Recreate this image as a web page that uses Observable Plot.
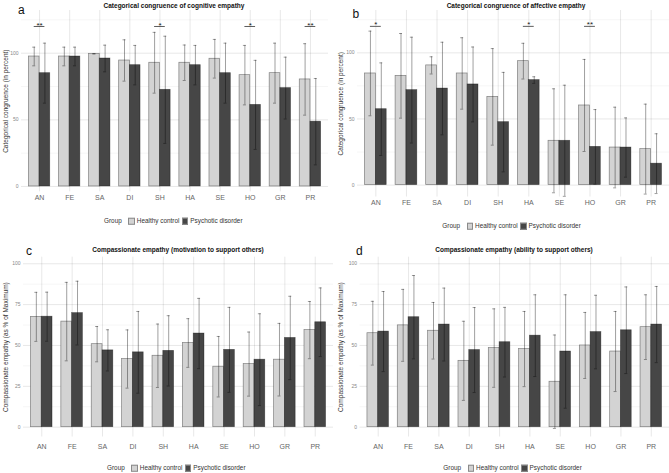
<!DOCTYPE html>
<html>
<head>
<meta charset="utf-8">
<script src="https://cdn.jsdelivr.net/npm/d3@7"></script>
<script src="https://cdn.jsdelivr.net/npm/@observablehq/plot@0.6"></script>
<style>
  html, body { margin: 0; padding: 0; background: #fff; }
  #root { position: relative; width: 669px; height: 473px; overflow: hidden; background: #fff;
          font-family: "Liberation Sans", Arial, Helvetica, sans-serif; }
  .panel-svg { position: absolute; }
  .title { position: absolute; font-weight: bold; font-size: 6.5px; color: #111; white-space: nowrap;
           transform: translate(-50%, -50%); line-height: 1; }
  .letter { position: absolute; font-size: 12px; color: #111; line-height: 1; }
  .legend { position: absolute; display: flex; align-items: center; font-size: 6.4px; color: #333;
            white-space: nowrap; line-height: 1; transform: translateY(-50%); }
  .legend .sw { display: inline-block; width: 6.5px; height: 6.5px; box-sizing: border-box;
                border: 0.6px solid #8a8a8a; }
  svg g[aria-label="x-axis tick label"] { font-size: 7px; fill: #666; }
  svg g[aria-label="y-axis tick label"] { font-size: 5px; fill: #888; }
  svg g[aria-label="y-axis label"] { font-size: 6.5px; fill: #333; }
</style>
</head>
<body>
<div id="root"></div>
<script>
// Emotion categories on the x axis
const categories = ["AN", "FE", "SA", "DI", "SH", "HA", "SE", "HO", "GR", "PR"];
const groups = ["Healthy control", "Psychotic disorder"];
const legendTitle = "Group";

// a: categorical congruence of cognitive empathy (mean, SD)
const cogHcMean = [97.5, 97.5, 99.5, 94.5, 92.8, 92.8, 95.8, 83.5, 85, 80.3];
const cogHcSd   = [7, 7, 0, 15.5, 22.8, 13.3, 14.5, 22.3, 22.5, 26.8];
const cogPdMean = [85, 97.5, 96, 91, 72.5, 91, 85, 61.2, 73.8, 48.6];
const cogPdSd   = [22.5, 7, 10, 14.8, 40.2, 14.8, 22.5, 33.4, 23.2, 32.4];
const cogSig    = ["**", "", "", "", "*", "", "", "*", "", "**"];

// b: categorical congruence of affective empathy (mean, SD)
const affHcMean = [84.4, 82.6, 90.5, 84.4, 66.7, 93.7, 33.5, 60.2, 28.4, 27.2];
const affHcSd   = [32, 32, 6.5, 27, 36.5, 13.5, 39.3, 34.8, 30.5, 34];
const affPdMean = [57.4, 71.8, 73, 76.1, 47.6, 79.4, 33.5, 28.9, 28.4, 16.2];
const affPdSd   = [35, 40, 35, 28.3, 37.6, 2.5, 42, 28.2, 22.4, 22.6];
const affSig    = ["*", "", "", "", "", "*", "", "**", "", ""];

// c: compassionate empathy, motivation to support others (% of maximum)
const motHcMean = [67.5, 64.6, 50.8, 41.7, 43.7, 51.5, 37, 38.6, 41.3, 59.4];
const motHcSd   = [15, 24, 10.8, 17.8, 19.4, 14.9, 18.5, 19.6, 22.2, 17.5];
const motPdMean = [67.6, 69.8, 47, 45.8, 46.7, 57.3, 47.3, 41.3, 54.6, 64.2];
const motPdSd   = [15, 19.5, 12.6, 25, 21.5, 21.5, 26, 28.1, 25.5, 21];

// d: compassionate empathy, ability to support others (% of maximum)
const ablHcMean = [57.5, 62.3, 59, 40.6, 48.4, 47.8, 27.8, 50, 46.3, 61.2];
const ablHcSd   = [19.5, 22, 17.3, 24.2, 24, 23, 28.6, 20.2, 24.5, 19.8];
const ablPdMean = [58.5, 67.3, 62.8, 47.2, 52, 56, 46.3, 58.2, 59.3, 62.8];
const ablPdSd   = [24.5, 25.5, 22.3, 26, 21.3, 25, 34.7, 22.5, 26.5, 23.3];

// Axis ticks
const congruenceTicks = [0, 50, 100];
const congruenceMinor = [25, 75, 125];
const compassionTicks = [0, 25, 50, 75, 100];
const compassionMinor = [12.5, 37.5, 62.5, 87.5];

const titles = [
  "Categorical congruence of cognitive empathy",
  "Categorical congruence of affective empathy",
  "Compassionate empathy (motivation to support others)",
  "Compassionate empathy (ability to support others)"
];
const letters = ["a", "b", "c", "d"];
const yLabels = [
  "Categorical congruence (in percent)",
  "Categorical congruence (in percent)",
  "Compassionate empathy (as % of Maximum)",
  "Compassionate empathy (as % of Maximum)"
];

const HC_FILL = "#d3d3d3";
const PD_FILL = "#464646";
const SIG_LEVEL = 120;
const PAD_INNER = 0.29;
const PAD_OUTER = 0.245;
const CAP = 3;

const root = document.getElementById("root");

function addDiv(cls, text, style) {
  const el = document.createElement("div");
  el.className = cls;
  if (text != null) el.textContent = text;
  Object.assign(el.style, style);
  root.appendChild(el);
  return el;
}

function addLegend(x, y) {
  const lg = addDiv("legend", null, {left: x + "px", top: y + "px"});
  const t = document.createElement("span");
  t.textContent = legendTitle;
  t.style.marginRight = "6.5px";
  lg.appendChild(t);
  [HC_FILL, PD_FILL].forEach((fill, i) => {
    const sw = document.createElement("span");
    sw.className = "sw";
    sw.style.background = fill;
    sw.style.marginRight = "2px";
    lg.appendChild(sw);
    const s = document.createElement("span");
    s.textContent = groups[i];
    s.style.marginRight = i === 0 ? "2.4px" : "0";
    lg.appendChild(s);
  });
}

function panel(p) {
  const n = categories.length;
  const inner = p.width - p.mL - p.mR;
  const step = inner / (n - PAD_INNER + 2 * PAD_OUTER);
  const bw = step * (1 - PAD_INNER);
  const half = bw / 2;

  const rowsFor = (means, sds, g) => categories.map((c, i) => ({
    cat: c, group: g, mean: means[i], lo: means[i] - sds[i], hi: means[i] + sds[i]
  }));
  const hc = rowsFor(p.hcMean, p.hcSd, groups[0]);
  const pd = rowsFor(p.pdMean, p.pdSd, groups[1]);
  const sig = p.sig ? categories.map((c, i) => ({cat: c, label: p.sig[i]})).filter(d => d.label) : [];

  const errStyle = {stroke: "#000", strokeOpacity: 0.5, strokeWidth: 0.75};
  const capL = {insetLeft: half / 2 - CAP / 2, insetRight: bw - half / 2 - CAP / 2};
  const capR = {insetLeft: half + half / 2 - CAP / 2, insetRight: half / 2 - CAP / 2};

  const svg = Plot.plot({
    width: p.width,
    height: p.height,
    marginLeft: p.mL, marginRight: p.mR, marginTop: p.mT, marginBottom: p.mB,
    style: {fontFamily: '"Liberation Sans", Arial, Helvetica, sans-serif', fontSize: "6px", background: "transparent", color: "#222"},
    x: {domain: categories, paddingInner: PAD_INNER, paddingOuter: PAD_OUTER, align: 0.5, round: false,
        grid: true, tickSize: 0, tickPadding: p.xPad, label: null},
    y: {domain: p.yDomain, ticks: p.ticks, grid: true, tickSize: 0, tickPadding: 3,
        label: p.yLabel, labelAnchor: "center", labelArrow: "none", labelOffset: p.mL - 2.5},
    marks: [
      Plot.ruleY(p.minor, {stroke: "#000", strokeOpacity: 0.04}),
      Plot.barY(hc, {x: "cat", y: "mean", fill: HC_FILL, stroke: "#000", strokeOpacity: 0.45, strokeWidth: 0.7, insetRight: half}),
      Plot.barY(pd, {x: "cat", y: "mean", fill: PD_FILL, stroke: "#000", strokeOpacity: 0.45, strokeWidth: 0.7, insetLeft: half}),
      Plot.ruleX(hc, {x: "cat", y1: "lo", y2: "hi", dx: -half / 2, ...errStyle}),
      Plot.ruleX(pd, {x: "cat", y1: "lo", y2: "hi", dx: half / 2, ...errStyle}),
      Plot.tickY(hc, {x: "cat", y: "lo", ...capL, ...errStyle}),
      Plot.tickY(hc, {x: "cat", y: "hi", ...capL, ...errStyle}),
      Plot.tickY(pd, {x: "cat", y: "lo", ...capR, ...errStyle}),
      Plot.tickY(pd, {x: "cat", y: "hi", ...capR, ...errStyle}),
      Plot.tickY(sig, {x: "cat", y: () => SIG_LEVEL, insetLeft: half / 2, insetRight: half / 2, stroke: "#333", strokeWidth: 0.8}),
      Plot.text(sig, {x: "cat", y: () => SIG_LEVEL, text: "label", fontSize: 8, dy: -1.5, fill: "#222"})
    ]
  });
  svg.classList.add("panel-svg");
  svg.style.left = p.left + "px";
  svg.style.top = p.top + "px";
  root.appendChild(svg);
}

// a
panel({left: 0, top: 0, width: 334, height: 202, mL: 21, mR: 6, mT: 10, mB: 10.7, xPad: 3,
  yDomain: [-4, 132], ticks: congruenceTicks, minor: congruenceMinor, yLabel: yLabels[0],
  hcMean: cogHcMean, hcSd: cogHcSd, pdMean: cogPdMean, pdSd: cogPdSd, sig: cogSig});
// b
panel({left: 335, top: 0, width: 334, height: 210, mL: 22, mR: 0, mT: 10, mB: 13.5, xPad: 3.5,
  yDomain: [-9, 132], ticks: congruenceTicks, minor: congruenceMinor, yLabel: yLabels[1],
  hcMean: affHcMean, hcSd: affHcSd, pdMean: affPdMean, pdSd: affPdSd, sig: affSig});
// c
panel({left: 0, top: 245, width: 334, height: 210, mL: 23, mR: 1, mT: 11.7, mB: 18.5, xPad: 7.5,
  yDomain: [-6, 104], ticks: compassionTicks, minor: compassionMinor, yLabel: yLabels[2],
  hcMean: motHcMean, hcSd: motHcSd, pdMean: motPdMean, pdSd: motPdSd});
// d
panel({left: 335, top: 245, width: 334, height: 210, mL: 24.5, mR: 0, mT: 11.7, mB: 18.5, xPad: 7.5,
  yDomain: [-6, 104], ticks: compassionTicks, minor: compassionMinor, yLabel: yLabels[3],
  hcMean: ablHcMean, hcSd: ablHcSd, pdMean: ablPdMean, pdSd: ablPdSd});

// Panel titles and letters
addDiv("title", titles[0], {left: "174px", top: "5.5px"});
addDiv("title", titles[1], {left: "516px", top: "5.5px"});
addDiv("title", titles[2], {left: "178px", top: "249.5px"});
addDiv("title", titles[3], {left: "514px", top: "249.5px"});
addDiv("letter", letters[0], {left: "18px", top: "4px"});
addDiv("letter", letters[1], {left: "352.5px", top: "8px"});
addDiv("letter", letters[2], {left: "26px", top: "245px"});
addDiv("letter", letters[3], {left: "356px", top: "245px"});

// Legends
addLegend(104, 221);
addLegend(442.3, 226);
addLegend(107, 468.3);
addLegend(443.3, 468.3);
</script>
</body>
</html>
